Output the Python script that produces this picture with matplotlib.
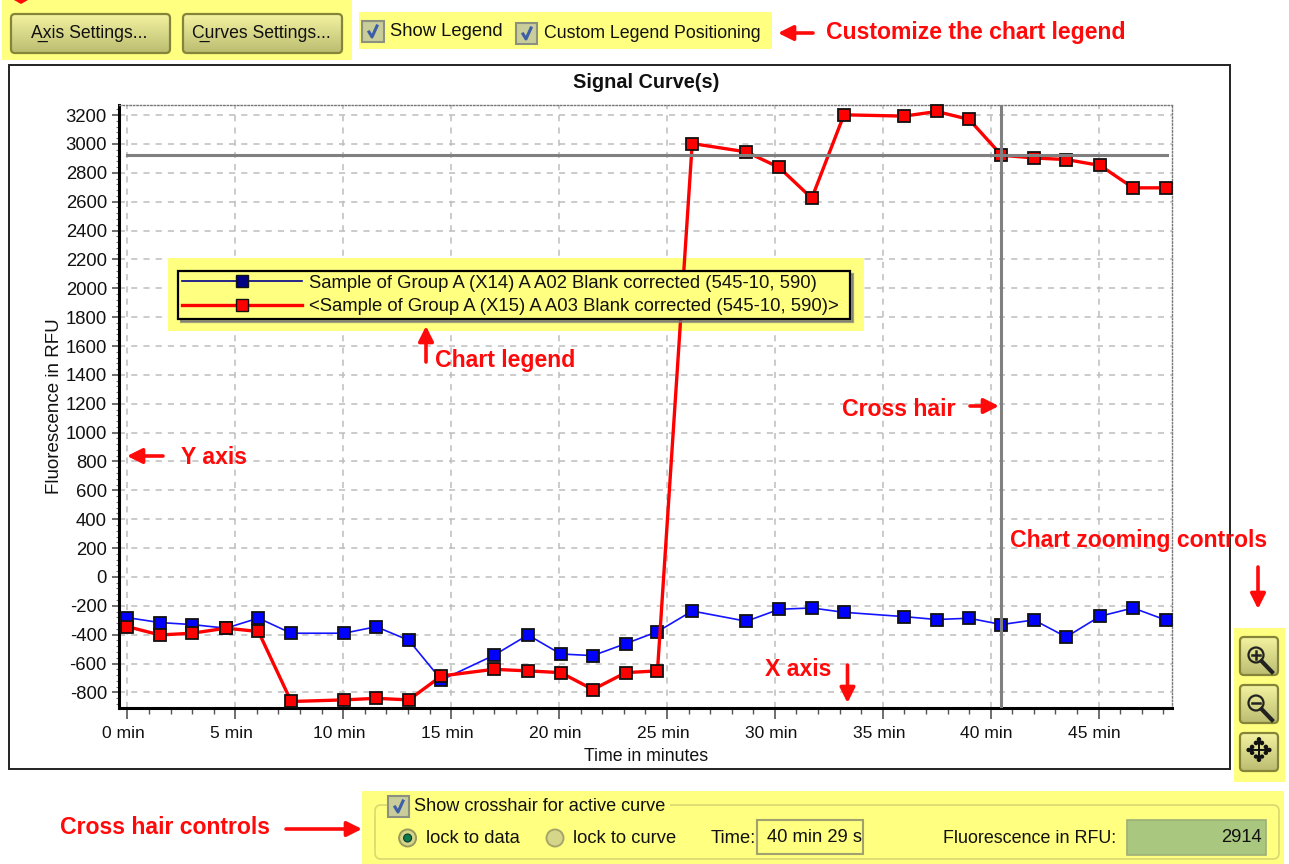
#!/usr/bin/env python3
# Signal curve screenshot: chart plus the yellow highlighted dialog controls
import numpy as np
import matplotlib
matplotlib.use("Agg")
import matplotlib.pyplot as plt
from matplotlib.lines import Line2D
from matplotlib.patches import Rectangle, FancyBboxPatch, Circle, Polygon
from matplotlib.transforms import ScaledTranslation
from matplotlib.ticker import MultipleLocator

plt.rcParams['font.family'] = ['Liberation Sans', 'DejaVu Sans']
plt.rcParams['axes.unicode_minus'] = False

# data
time_min = [0, 1.5, 3.0, 4.57, 6.07, 7.59, 10.03, 11.53, 13.04, 14.55,
            16.98, 18.56, 20.08, 21.57, 23.09, 24.56, 26.17, 28.68, 30.2, 31.71,
            33.2, 35.99, 37.5, 39.0, 40.5, 42.0, 43.5, 45.07, 46.6, 48.1]
blue_rfu = [-282, -316, -330, -355, -285, -390, -390, -345, -439, -714,
            -543, -402, -534, -545, -462, -379, -236, -307, -224, -215,
            -245, -275, -295, -286, -330, -298, -416, -272, -215, -298]
red_rfu = [-344, -402, -390, -355, -378, -863, -852, -841, -852, -686,
           -640, -651, -663, -780, -663, -651, 3003, 2945, 2837, 2624,
           3202, 3193, 3225, 3170, 2922, 2903, 2892, 2851, 2696, 2696]
blue_name = "Sample of Group A (X14) A A02 Blank corrected (545-10, 590)"
red_name = "<Sample of Group A (X15) A A03 Blank corrected (545-10, 590)>"
x_ticks = [0, 5, 10, 15, 20, 25, 30, 35, 40, 45]
x_labels = ["0 min", "5 min", "10 min", "15 min", "20 min", "25 min",
            "30 min", "35 min", "40 min", "45 min"]
y_ticks = list(range(-800, 3201, 200))
cross_x = 40.5
cross_y = 2925

W, H = 1289, 864
YELLOW = '#FFFF80'
RED = '#FF0A0A'
TXT = '#111111'

fig = plt.figure(figsize=(W / 100, H / 100), dpi=100, facecolor='white')


def pixel_axes(z):
    a = fig.add_axes([0, 0, 1, 1], zorder=z)
    a.set_xlim(0, W)
    a.set_ylim(H, 0)
    a.axis('off')
    return a


bg = pixel_axes(0)
top = pixel_axes(5)


def rect(a, x0, y0, x1, y1, **kw):
    a.add_patch(Rectangle((x0, y0), x1 - x0, y1 - y0, **kw))


def button(x0, y0, x1, y1):
    patch = FancyBboxPatch((x0 + 2, y0 + 2), x1 - x0 - 4, y1 - y0 - 4,
                           boxstyle="round,pad=2,rounding_size=4",
                           fc='none', ec='#85853A', lw=1.6, zorder=3)
    bg.add_patch(patch)
    grad = np.linspace(0, 1, 32).reshape(-1, 1)
    cm = matplotlib.colors.LinearSegmentedColormap.from_list('b', ['#F2F2A0', '#BDBD72'])
    im = bg.imshow(grad, extent=(x0, x1, y1, y0), cmap=cm, aspect='auto', zorder=2)
    im.set_clip_path(patch)
    bg.set_xlim(0, W)
    bg.set_ylim(H, 0)


def checkbox(x0, y0, x1, y1):
    rect(bg, x0, y0, x1, y1, fc='#C9CD9A', ec='#8C9080', lw=1.5, zorder=3)
    bg.plot([x0 + 7, x0 + 10, x0 + 15], [y0 + 11, y1 - 5, y0 + 5], color='#3C5FA8', lw=2.2,
            zorder=4)


def label(x, y, s, size=13, ha='left', **kw):
    bg.text(x, y + 1.5, s, fontsize=size, ha=ha, va='center', color=TXT, zorder=4, **kw)


def arrow(p0, p1):
    top.annotate('', xy=p1, xytext=p0, xycoords='data',
                 arrowprops=dict(arrowstyle='-|>,head_width=0.45,head_length=0.9',
                                 color=RED, lw=2.6, shrinkA=0, shrinkB=0))


def note(x, y, s):
    top.text(x, y, s, color=RED, fontsize=16.6, fontweight='bold', ha='left', va='center')


# yellow highlights
rect(bg, 2, 0, 352, 60, fc=YELLOW, ec='none')
rect(bg, 359, 12, 772, 49, fc=YELLOW, ec='none')
rect(bg, 1234, 628, 1285, 782, fc=YELLOW, ec='none')
rect(bg, 362, 791, 1284, 864, fc=YELLOW, ec='none')

# top controls
button(11, 14, 170, 53)
button(183, 14, 342, 53)
label(31, 32, "A\u0332xis Settings...", size=12.7)
label(192, 32, "C\u0332urves Settings...", size=12.7)
checkbox(362, 21, 384, 42)
checkbox(516, 23, 537, 44)
label(390, 30, "Show Legend", size=13.2)
label(544, 32, "Custom Legend Positioning", size=12.8)

# chart frame
rect(bg, 9, 65, 1230, 769, fc='white', ec='#222222', lw=1.4)

# chart axes
L, R, T, B = 119.4, 1172, 105, 707.7
ax = fig.add_axes([L / W, 1 - B / H, (R - L) / W, (B - T) / H], zorder=1)
ax.patch.set_alpha(0)
ax.set_xlim(-0.37, 48.4)
ax.set_ylim(-906, 3270)
ax.set_axisbelow(True)
ax.grid(True, which='major', color='#BDBDBD', ls=(0, (4, 4)), lw=1.1, zorder=0.5)
ax.set_xticks(x_ticks)
ax.set_xticklabels(x_labels, fontsize=12.6, color=TXT)
ax.set_yticks(y_ticks)
ax.tick_params(axis='y', labelsize=13.3, labelcolor=TXT, length=5, width=1.2, pad=4, color='#555555')
ax.tick_params(axis='x', length=8, width=1.2, pad=5, color='#555555')
ax.xaxis.set_minor_locator(MultipleLocator(1))
ax.yaxis.set_minor_locator(MultipleLocator(40))
ax.tick_params(axis='x', which='minor', length=4.5, width=1, color='#555555')
ax.tick_params(axis='y', which='minor', length=2, width=0.8, color='#777777')
shift = ScaledTranslation(-4 / 100, 0, fig.dpi_scale_trans)
for t in ax.get_xticklabels():
    t.set_transform(t.get_transform() + shift)
for s in ('left', 'bottom'):
    ax.spines[s].set_linewidth(2.2)
for s in ('top', 'right'):
    ax.spines[s].set_linestyle((0, (1, 1.5)))
    ax.spines[s].set_color('#777777')
    ax.spines[s].set_linewidth(1)
ax.set_xlabel("Time in minutes", fontsize=12.8, color=TXT, labelpad=5)
ax.set_ylabel("Fluorescence in RFU", fontsize=13.5, color=TXT, labelpad=2)
ax.set_title("Signal Curve(s)", fontsize=14.3, fontweight='bold', color=TXT, pad=12)

# highlight sits on the grid but below the curves
ax.add_patch(Rectangle((168, 258), 696, 73, fc=YELLOW, ec='none', transform=bg.transData,
                       zorder=1.5, clip_on=False))

mk = dict(marker='s', ms=8, mec='#111111', mew=1.3, clip_on=False)
ax.plot(time_min, blue_rfu, color='#1414FF', lw=1.2, mfc='#0000FF', zorder=3, **mk)
ax.plot(time_min, red_rfu, color='#FF0000', lw=2.4, mfc='#FF0000', zorder=3.1, **mk)
ax.plot([0, 48.15], [cross_y, cross_y], color='#808080', lw=2.2, zorder=4)
ax.axvline(cross_x, color='#808080', lw=2.2, zorder=4)

handles = [
    Line2D([], [], color='#00008B', lw=1.2, marker='s', ms=8, mfc='#000080', mec='#111111'),
    Line2D([], [], color='#FF0000', lw=2.4, marker='s', ms=8, mfc='#FF0000', mec='#111111'),
]
leg = ax.legend(handles, [blue_name, red_name], loc='lower left', numpoints=1, mode='expand',
                bbox_to_anchor=(178.4, 269, 672, 50), bbox_transform=bg.transData, borderaxespad=0,
                fontsize=13.3, handlelength=6.5, handletextpad=0.37, labelspacing=0.36,
                borderpad=0.2, fancybox=False, framealpha=1, facecolor=YELLOW,
                edgecolor='black', shadow={'color': '#777777', 'alpha': 0.7})
leg.get_frame().set_linewidth(1.6)
leg.set_zorder(6)
for t in leg.get_texts():
    t.set_color(TXT)

# zoom buttons
for y0 in (637, 685, 733):
    button(1240, y0, 1278, y0 + 38)
for cy, sign in ((655, '+'), (703, '-')):
    bg.add_patch(Circle((1256, cy), 7.5, fc='none', ec='#222222', lw=1.6, zorder=5))
    bg.plot([1261.5, 1272], [cy + 6, cy + 17], color='#222222', lw=3, zorder=5)
    bg.plot([1252, 1260], [cy, cy], color='#222222', lw=1.8, zorder=5)
    if sign == '+':
        bg.plot([1256, 1256], [cy - 4, cy + 4], color='#222222', lw=1.8, zorder=5)
bg.text(1258.5, 752, "\u2725", fontsize=24, ha='center', va='center', color='#111111',
        zorder=5, family='DejaVu Sans')

# crosshair panel
bg.add_patch(FancyBboxPatch((378, 808), 898, 48, boxstyle="round,pad=3,rounding_size=6",
                            fc='none', ec='#D8D870', lw=1.2, zorder=1))
rect(bg, 410, 798, 670, 814, fc=YELLOW, ec='none', zorder=1.5)
checkbox(388, 796, 409, 817)
label(414, 805, "Show crosshair for active curve", size=13.1)
bg.add_patch(Circle((407.6, 838), 8.5, fc='#D6D68A', ec='#9A9A5A', lw=1.4, zorder=3))
bg.add_patch(Circle((407.6, 838), 4, fc='#0E7A4E', ec='#0A3A2A', lw=0.8, zorder=4))
label(426, 837, "lock to data", size=13.2)
bg.add_patch(Circle((555, 838), 8.5, fc='#D6D68A', ec='#A5A56A', lw=1.4, zorder=3))
label(573, 837, "lock to curve", size=13.2)
label(711, 837, "Time:", size=13.2)
rect(bg, 757, 820, 863, 854, fc=YELLOW, ec='#A0A070', lw=1.5, zorder=3)
label(767, 836, "40 min 29 s", size=13.2)
label(943, 837, "Fluorescence in RFU:", size=12.9)
rect(bg, 1127, 820, 1266, 855, fc='#A9C77E', ec='#9DAE78', lw=1.2, zorder=3)
label(1262, 836, "2914", ha='right', size=13.2)

# red notes and arrows
top.add_patch(Polygon([[14, 0], [28, 0], [21, 4]], closed=True, fc=RED, ec='none'))
note(826, 32, "Customize the chart legend")
arrow((813, 33), (778, 33))
note(435, 361, "Chart legend")
arrow((426, 362), (426, 326))
note(842, 409, "Cross hair")
arrow((970, 406), (999, 406))
note(181, 457, "Y axis")
arrow((163, 456), (127, 456))
note(1010, 541, "Chart zooming controls")
arrow((1258, 567), (1258, 609))
note(765, 669, "X axis")
arrow((847.5, 665), (847.5, 703))
note(60, 827, "Cross hair controls")
arrow((286, 829), (362, 829))

fig.savefig('out.png', dpi=100)
